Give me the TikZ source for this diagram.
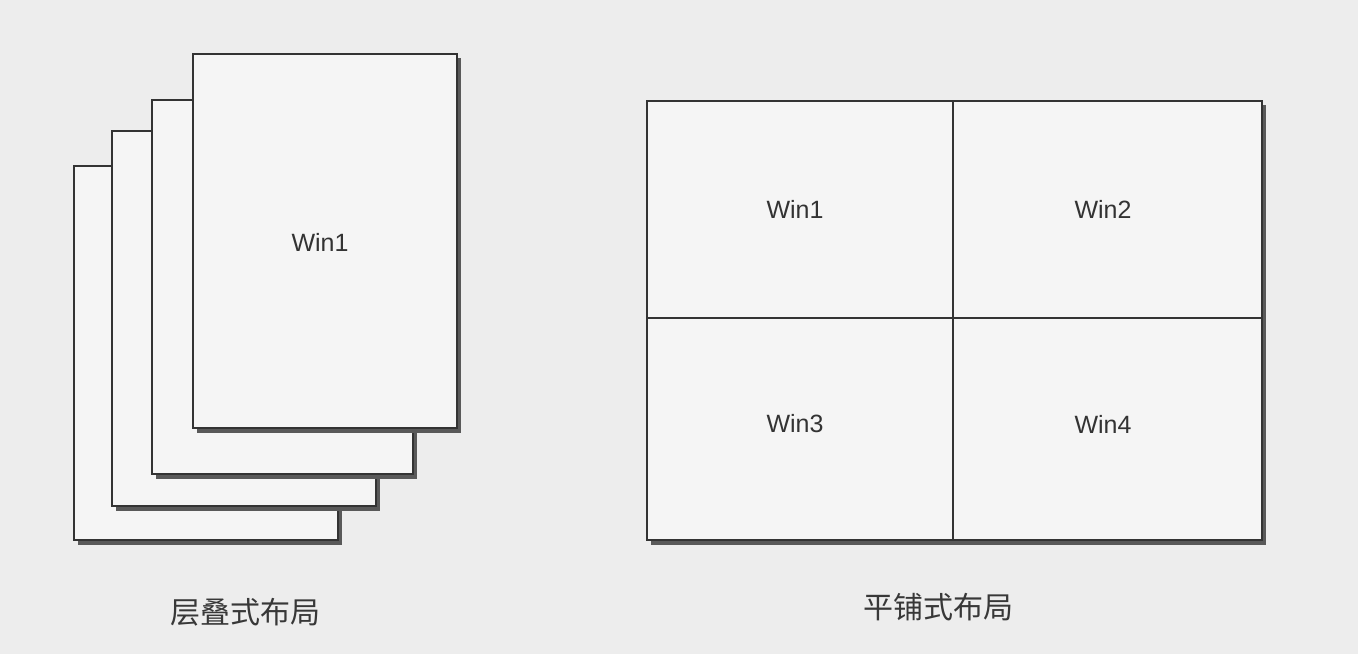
\documentclass[tikz,border=0pt]{standalone}
\usepackage{fontspec}
\setmainfont{Liberation Sans}
\newfontfamily\cjk{Noto Sans CJK SC}
\begin{document}
\begin{tikzpicture}[x=1pt,y=-1pt,
  win/.style={draw=black!80,line width=1.6pt,fill=black!4},
  shadow/.style={fill=black!65,draw=none},
  wlabel/.style={font=\fontsize{25}{28}\selectfont,text=black!80},
  clabel/.style={font=\cjk\fontsize{30}{34}\selectfont,text=black!78}]
\useasboundingbox[fill=black!7] (0,0) rectangle (1358,654);
% stacked windows (back to front)
\fill[shadow] (78,170) rectangle (342,545);
\draw[win] (74,166) rectangle (338,540);
\fill[shadow] (116,135) rectangle (380,511);
\draw[win] (112,131) rectangle (376,506);
\fill[shadow] (156,104) rectangle (417,479);
\draw[win] (152,100) rectangle (413,474);
\fill[shadow] (197,58) rectangle (461,433);
\draw[win] (193,54) rectangle (457,428);
\node[wlabel] (s1) at (320,242) {Win1};
% tiled windows
\fill[shadow] (651,105) rectangle (1266,545);
\draw[win] (647,101) rectangle (1262,540);
\coordinate (gt) at (953,101);
\coordinate (gb) at (953,540);
\coordinate (gl) at (647,318);
\coordinate (gr) at (1262,318);
\draw[draw=black!80,line width=1.6pt] (gt) -- (gb);
\draw[draw=black!80,line width=1.6pt] (gl) -- (gr);
\node[wlabel] (t1) at (795,209) {Win1};
\node[wlabel] (t2) at (1103,209) {Win2};
\node[wlabel] (t3) at (795,424) {Win3};
\node[wlabel] (t4) at (1103,424) {Win4};
% captions
\node[clabel] (c1) at (245,612) {层叠式布局};
\node[clabel] (c2) at (938,607) {平铺式布局};
\end{tikzpicture}
\end{document}
